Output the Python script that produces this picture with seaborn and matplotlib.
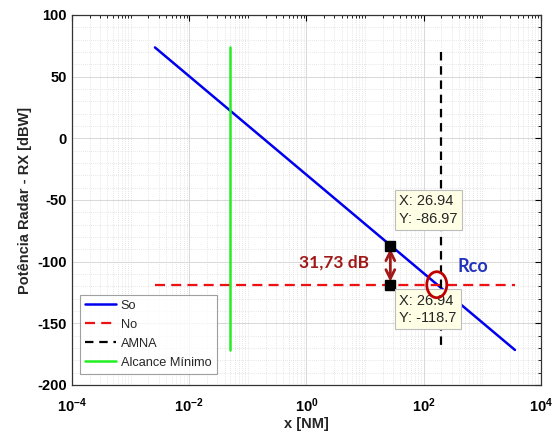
import numpy as np
import pandas as pd
import matplotlib
matplotlib.use("Agg")
import matplotlib.pyplot as plt
import seaborn as sns
from matplotlib.patches import Ellipse
from matplotlib.transforms import IdentityTransform
from matplotlib.ticker import FixedLocator, LogLocator, NullFormatter, MultipleLocator

# ---- data ----
so_x = [0.0026, 3600.0]
so_y = [73.7, -171.6]
no_x = [0.0026, 3600.0]
no_y = [-118.7, -118.7]
amna_x = [200.0, 200.0]
amna_y = [70.0, -171.6]
alc_x = [0.05, 0.05]
alc_y = [73.7, -171.6]
tip_x = 26.94
tip_y_top = -86.97
tip_y_bot = -118.7
rco_x = 167.0
rco_y = -118.7
diff_label = "31,73 dB"
xticks = [1e-4, 1e-2, 1e0, 1e2, 1e4]
xticklabels = [r"$\mathbf{10^{-4}}$", r"$\mathbf{10^{-2}}$", r"$\mathbf{10^{0}}$",
               r"$\mathbf{10^{2}}$", r"$\mathbf{10^{4}}$"]
yticks = [100, 50, 0, -50, -100, -150, -200]

sns.set_style("white")
plt.rcParams["font.family"] = ["Liberation Sans", "DejaVu Sans"]
plt.rcParams["mathtext.fontset"] = "custom"
plt.rcParams["mathtext.rm"] = "Liberation Sans"
plt.rcParams["mathtext.bf"] = "Liberation Sans:bold"

fig = plt.figure(figsize=(5.58, 4.37), dpi=100)
ax = fig.add_axes([0.129, 0.119, 0.8405, 0.8467])

kw = dict(ax=ax, estimator=None, sort=False, errorbar=None)
sns.lineplot(x=so_x, y=so_y, color="#0000EE", lw=1.8, label="So", **kw)
sns.lineplot(x=no_x, y=no_y, color="#EE1111", lw=1.6, label="No",
             linestyle=(0, (4.5, 2.8)), **kw)
sns.lineplot(x=amna_x, y=amna_y, color="black", lw=1.6, label="AMNA",
             linestyle=(0, (3.8, 2.6)), **kw)
sns.lineplot(x=alc_x, y=alc_y, color="#22EE22", lw=1.8, label="Alcance Mínimo", **kw)

ax.set_xscale("log")
ax.set_xlim(1e-4, 1e4)
ax.set_ylim(-200, 100)

ax.xaxis.set_major_locator(FixedLocator(xticks))
ax.set_xticks(xticks)
ax.set_xticklabels(xticklabels)
ax.xaxis.set_minor_locator(LogLocator(base=10, subs=np.arange(1, 10), numticks=100))
ax.xaxis.set_minor_formatter(NullFormatter())
ax.set_yticks(yticks)
ax.set_yticklabels([str(v) for v in yticks], fontweight="bold")
ax.yaxis.set_minor_locator(MultipleLocator(10))

ax.tick_params(axis="both", which="both", direction="in", top=True, right=True,
               labelsize=10.5, colors="black")
ax.tick_params(which="major", length=4)
ax.tick_params(which="minor", length=2)
ax.tick_params(axis="x", pad=8)

ax.grid(True, which="major", color="#D8D8D8", lw=0.7, ls="-")
ax.grid(True, which="minor", color="#D0D0D0", lw=0.5, ls=(0, (1, 2)))
ax.set_axisbelow(True)
for s in ax.spines.values():
    s.set_color("#333333")
    s.set_linewidth(0.9)

ax.set_xlabel("x [NM]", fontsize=10.5, fontweight="bold", labelpad=2)
ax.set_ylabel("Potência Radar - RX [dBW]", fontsize=10.5, fontweight="bold", labelpad=4)

# datatip markers
ax.plot([tip_x, tip_x], [tip_y_top, tip_y_bot], ls="none", marker="s",
        color="black", markersize=6.5, zorder=6)

# double arrow
ax.annotate("", xy=(tip_x, tip_y_top - 2.5), xytext=(tip_x, tip_y_bot + 2.5),
            arrowprops=dict(arrowstyle="<->", color="#A01818", lw=2,
                            mutation_scale=16, shrinkA=0, shrinkB=0), zorder=5)
ax.text(3.0, -101, diff_label, color="#A01818", fontsize=12.5, fontweight="bold",
        ha="center", va="center", family=["Lato", "DejaVu Sans"])
ax.text(690, -104, "Rco", color="#2233BB", fontsize=13, fontweight="bold",
        ha="center", va="center", family=["Lato", "DejaVu Sans"])

# datatip boxes
box = dict(boxstyle="square,pad=0.3", fc="#FFFFE6", ec="#BDBDBD", lw=0.8)
ax.text(38, -45.5, f"X: {tip_x}\nY: {tip_y_top}", fontsize=10.5, va="top", ha="left",
        bbox=box, linespacing=1.3, zorder=7)
ax.text(38, -126, f"X: {tip_x}\nY: {tip_y_bot}", fontsize=10.5, va="top", ha="left",
        bbox=box, linespacing=1.3, zorder=7)

# Rco ellipse (drawn in display units around the data point)
fig.canvas.draw()
cx, cy = ax.transData.transform((rco_x, rco_y))
ax.add_patch(Ellipse((cx, cy), 20, 26, transform=IdentityTransform(), fill=False,
                     ec="#C00000", lw=2, zorder=8))

leg = ax.legend(loc="lower left", bbox_to_anchor=(0.017, 0.03), borderaxespad=0,
                fontsize=9.2, frameon=True, fancybox=False, edgecolor="#888888",
                handlelength=2.4, handletextpad=0.4, borderpad=0.4, labelspacing=0.55)
leg.get_frame().set_linewidth(0.8)

fig.savefig("out.png", dpi=100)
